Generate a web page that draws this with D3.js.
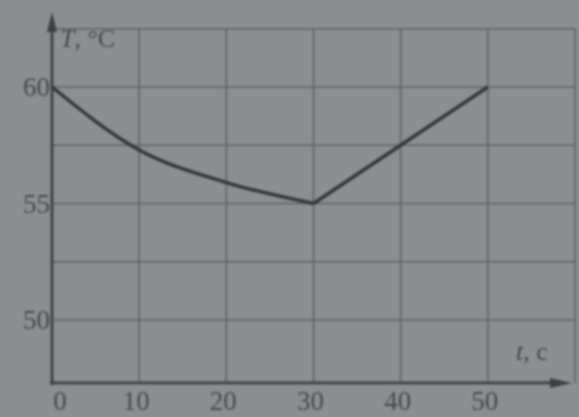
<!DOCTYPE html>
<html>
<head>
<meta charset="utf-8">
<script src="https://cdn.jsdelivr.net/npm/d3@7"></script>
<style>
  html, body { margin: 0; padding: 0; background: #8b8f8f; overflow: hidden; }
  svg { display: block; filter: blur(1px); }
</style>
</head>
<body>
<script>
// values
const timeS = [0, 10, 20, 30, 40, 50];
const tempC = [60, 57.3, 55.9, 55, 57.5, 60];
const xTicks = [0, 10, 20, 30, 40, 50];
const yTicks = [50, 55, 60];
const yGrid = [50, 52.5, 55, 57.5, 60, 62.5];
const xGrid = [10, 20, 30, 40, 50, 60];

const W = 579, H = 417;
const svg = d3.select('body').append('svg').attr('width', W).attr('height', H);

const x = d3.scaleLinear().domain([0, 60]).range([52, 575]);
const y = d3.scaleLinear().domain([50, 60]).range([320, 87]);
const baseY = y(47.3);

const grid = svg.append('g').attr('stroke', '#5f6466').attr('stroke-width', 1.6);
grid.selectAll('line.h').data(yGrid).enter().append('line')
  .attr('x1', x(0)).attr('x2', x(60))
  .attr('y1', d => y(d)).attr('y2', d => y(d));
grid.selectAll('line.v').data(xGrid).enter().append('line')
  .attr('x1', d => x(d)).attr('x2', d => x(d))
  .attr('y1', y(62.5)).attr('y2', baseY);

// axes with arrows
const axisColor = '#3c4044';
svg.append('line').attr('x1', x(0)).attr('x2', x(0)).attr('y1', baseY + 2).attr('y2', 20)
  .attr('stroke', axisColor).attr('stroke-width', 2.8);
svg.append('path').attr('d', `M${x(0) - 5},${32} L${x(0)},${12} L${x(0) + 5},${32} Z`).attr('fill', axisColor);
svg.append('line').attr('x1', x(0) - 2).attr('x2', 560).attr('y1', baseY).attr('y2', baseY)
  .attr('stroke', axisColor).attr('stroke-width', 2.8);
svg.append('path').attr('d', `M550,${baseY - 5} L572,${baseY} L550,${baseY + 5} Z`).attr('fill', axisColor);

// curve: smooth cooling, then straight heating
const pts = timeS.map((t, i) => [t, tempC[i]]);
const line = d3.line().x(d => x(d[0])).y(d => y(d[1]));
svg.append('path').datum(pts.slice(0, 4))
  .attr('d', line.curve(d3.curveMonotoneX))
  .attr('fill', 'none').attr('stroke', '#33373b').attr('stroke-width', 3.4);
svg.append('path').datum([pts[3], pts[5]])
  .attr('d', d3.line().x(d => x(d[0])).y(d => y(d[1])))
  .attr('fill', 'none').attr('stroke', '#33373b').attr('stroke-width', 3.4);

const font = '"Liberation Serif", "DejaVu Serif", serif';
const textColor = '#464a4e';
svg.append('g').selectAll('text').data(yTicks).enter().append('text')
  .attr('x', 50).attr('y', d => y(d) + 9)
  .attr('text-anchor', 'end').attr('font-family', font).attr('font-size', 27)
  .attr('fill', textColor).text(d => d);
svg.append('g').selectAll('text').data(xTicks).enter().append('text')
  .attr('x', d => x(d) + (d === 0 ? 8 : -3)).attr('y', 410)
  .attr('text-anchor', 'middle').attr('font-family', font).attr('font-size', 27)
  .attr('fill', textColor).text(d => d);

svg.append('text').attr('x', 60).attr('y', 47).attr('font-family', font).attr('font-size', 26)
  .attr('fill', textColor).html('<tspan font-style="italic">T</tspan>, °C');
svg.append('text').attr('x', 516).attr('y', 360).attr('font-family', font).attr('font-size', 26)
  .attr('fill', textColor).html('<tspan font-style="italic">t</tspan>, c');
</script>
</body>
</html>
